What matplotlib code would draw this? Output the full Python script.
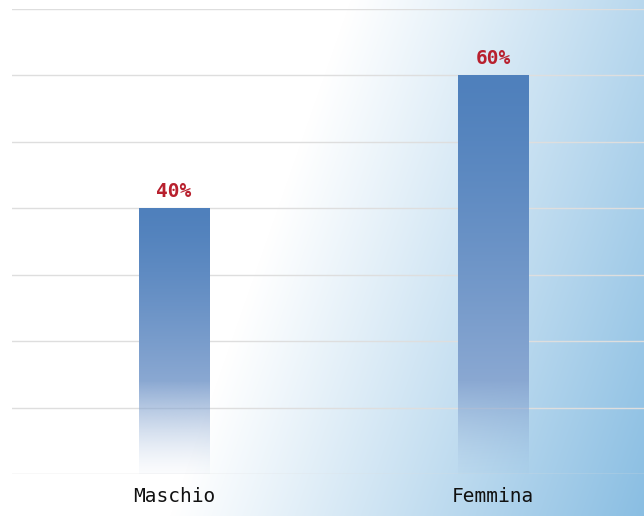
import numpy as np
import matplotlib
matplotlib.use("Agg")
import matplotlib.pyplot as plt
from matplotlib.colors import to_rgb

categories = ["Maschio", "Femmina"]
values = [40, 60]
labels = ["40%", "60%"]
grid_ticks = [0, 10, 20, 30, 40, 50, 60, 70]

W, H = 644, 516
fig = plt.figure(figsize=(W / 100, H / 100), dpi=100)

# diagonal white -> light blue wash behind everything
bg = fig.add_axes([0, 0, 1, 1], zorder=-2)
yy, xx = np.mgrid[0:H, 0:W]
d = xx + 0.35 * yy
t = np.clip((d - 350) / 480, 0, 1) ** 1.05
white = np.array([1.0, 1.0, 1.0])
blue = np.array(to_rgb("#88bde2"))
img = white[None, None, :] * (1 - t[..., None]) + blue[None, None, :] * t[..., None]
bg.imshow(img, extent=(0, W, H, 0), aspect="auto")
bg.set_axis_off()

ax = fig.add_axes([12 / W, 1 - 474 / H, 1 - 12 / W, (474 - 9) / H])
ax.patch.set_alpha(0)
x = np.arange(len(categories))

for g in grid_ticks:
    ax.axhline(g, color="#dedede", lw=1, zorder=1)

bar_w = 0.22
top_c = np.array(to_rgb("#4f80bc"))
mid_c = np.array(to_rgb("#8aa8d2"))
fade_v = 14.0
for xi, v, lab in zip(x, values, labels):
    n = 400
    vals = np.linspace(v, 0, n)
    rgba = np.zeros((n, 1, 4))
    for i, yv in enumerate(vals):
        if yv >= fade_v:
            f = ((v - yv) / (v - fade_v)) ** 1.3
            c = top_c * (1 - f) + mid_c * f
            a = 1.0
        else:
            c = mid_c
            a = 0.04 + 0.96 * (yv / fade_v) ** 1.4
        rgba[i, 0, :3] = c
        rgba[i, 0, 3] = a
    ax.imshow(rgba, extent=(xi - bar_w / 2, xi + bar_w / 2, 0, v),
              aspect="auto", zorder=2, interpolation="bilinear")
    ax.text(xi, v + 1.1, lab, ha="center", va="bottom", color="#b8202e",
            fontsize=14, fontweight="bold", family="DejaVu Sans Mono", zorder=3)

ax.set_xlim(-0.508, 1.473)
ax.set_ylim(0, 70)
ax.set_xticks(x)
ax.set_xticklabels(categories, family="DejaVu Sans Mono", fontsize=14,
                   color="#111111")
ax.tick_params(axis="x", length=0, pad=9)
ax.set_yticks([])
for s in ax.spines.values():
    s.set_visible(False)

fig.savefig("out.png", dpi=100)
